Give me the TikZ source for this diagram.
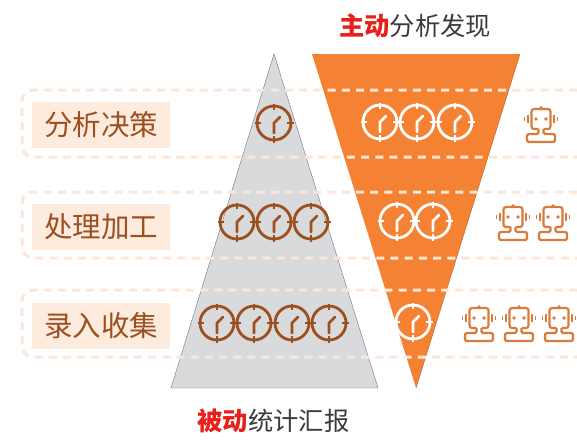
\documentclass[tikz,border=0pt]{standalone}
\usepackage{fontspec}
\setmainfont{Noto Sans CJK SC}
\definecolor{rust}{HTML}{9C4F1F}
\definecolor{robotc}{HTML}{D97B3A}
\definecolor{peach}{HTML}{FCE6D8}
\definecolor{peachfill}{HTML}{FDEBDE}
\definecolor{orangec}{HTML}{F58233}
\definecolor{grayc}{HTML}{D9DADC}
\definecolor{redc}{HTML}{E8201C}
\definecolor{titlec}{HTML}{3A3A3A}
\tikzset{
  rowline/.style={draw=peach,line width=3pt,dash pattern=on 8pt off 6.2pt},
  rowlabel/.style={fill=peachfill,text=rust,minimum width=138pt,minimum height=46pt,inner sep=0pt,font=\fontsize{28.5}{28.5}\selectfont},
  headline/.style={text=titlec,inner sep=0pt,font=\fontsize{25.3}{25.3}\selectfont},
  pics/clock/.style={code={
    \draw[line width=2.8pt] (0,0) circle (17pt);
    \draw[line width=2.6pt] (0,-19.5) -- (0,-13) (0,13) -- (0,19.5) (-19.5,0) -- (-13,0) (13,0) -- (19.5,0);
    \draw[line width=2.6pt,line cap=round] (0,10) -- (0,0) -- (6,-6);
  }},
  pics/robot/.style={code={
    \draw[line width=2.2pt,rounded corners=2.5pt] (-2.5,10) -- (-9.5,10) -- (-9.5,-10) -- (9.5,-10) -- (9.5,10) -- (2.5,10);
    \draw[line width=2.2pt,rounded corners=1.5pt] (-2.5,10) -- (-2.5,15) -- (-14,15) -- (-14,23) -- (14,23) -- (14,15) -- (2.5,15) -- (2.5,10);
    \fill (-5,0) circle (1.8pt) (5,0) circle (1.8pt) (0,-11.5) circle (1.5pt);
    \draw[line width=2pt] (-13,-4) -- (-13,4) (13,-4) -- (13,4);
    \draw[line width=1.8pt] (-16.5,-2) -- (-16.5,2) (16.5,-2) -- (16.5,2);
  }}
}
\begin{document}
\begin{tikzpicture}[x=1pt,y=-1pt]
\useasboundingbox (0,0) rectangle (577,440);
% triangles
\filldraw[fill=grayc,draw=gray!90!blue] (274,54) -- (378,388) -- (171,388) -- cycle;
\fill[orangec] (312,54) -- (520,54) -- (416,388) -- cycle;
\draw[orangec!75!black] (520,54) -- (416,388);
% rows
\draw[rowline,rounded corners=11pt] (577,90) -- (22,90) -- (22,157) -- (577,157);
\draw[rowline,rounded corners=11pt] (577,192) -- (22,192) -- (22,258) -- (577,258);
\draw[rowline,rounded corners=11pt] (577,290) -- (22,290) -- (22,357) -- (577,357);
\node[rowlabel] (decide) at (101,125) {分析决策};
\node[rowlabel] (process) at (101,227) {处理加工};
\node[rowlabel] (collect) at (101,326) {录入收集};
% clocks
\foreach \px/\py in {274/123,237/222,274/222,311/222,217/323,254/323,292/323,329/323}
  \pic[color=rust,draw=rust] at (\px,\py) {clock};
\foreach \px/\py in {380/122,417/122,455/122,397/221,433/221,413/322}
  \pic[color=white,draw=white] at (\px,\py) {clock};
% robots
\foreach \px/\py in {541/119,513/217,553/217,479/318,519/318,559/318}
  \pic[color=robotc,draw=robotc,fill=robotc] at (\px,\py) {robot};
% headings
\node[headline] (active) at (415,26) {\textcolor{redc}{\bfseries 主动}分析发现};
\node[headline] (passive) at (273.5,421) {\textcolor{redc}{\bfseries 被动}统计汇报};
\end{tikzpicture}
\end{document}
